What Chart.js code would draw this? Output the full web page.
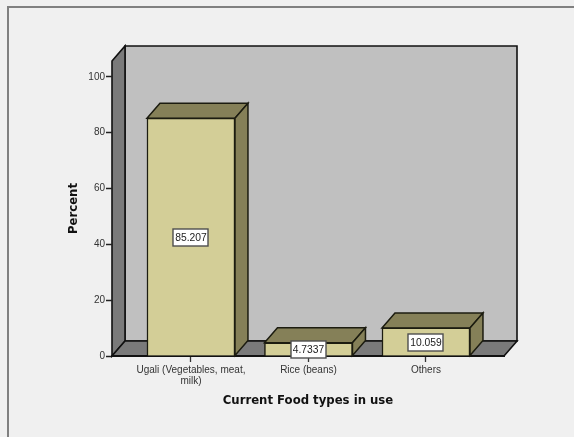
<!DOCTYPE html>
<html>
<head>
<meta charset="utf-8">
<style>
  html, body { margin: 0; padding: 0; background: #f0f0f0; }
  canvas { display: block; }
</style>
<script src="https://cdn.jsdelivr.net/npm/chart.js@4"></script>
</head>
<body>
<canvas id="chart" width="574" height="437"></canvas>
<script>
// Food types currently in use, share of respondents in percent
const categories = [["Ugali (Vegetables, meat,", "milk)"], "Rice (beans)", "Others"];
const percentValues = [85.207, 4.7337, 10.059];
const valueLabels = ["85.207", "4.7337", "10.059"];
const yTickValues = [0, 20, 40, 60, 80, 100];
const xPositions = [0, 1, 2];

const DEPTH_X = 13;
const DEPTH_Y = 15;

const poly = (ctx, pts, fill, stroke, lw) => {
  ctx.beginPath();
  pts.forEach((p, i) => i ? ctx.lineTo(p[0], p[1]) : ctx.moveTo(p[0], p[1]));
  ctx.closePath();
  ctx.fillStyle = fill;
  ctx.fill();
  ctx.lineJoin = 'miter';
  ctx.strokeStyle = stroke;
  ctx.lineWidth = lw;
  ctx.stroke();
};

// Back wall, side wall and floor of the 3D plot box
const boxPlugin = {
  id: 'plotBox',
  beforeDraw(chart) {
    const { ctx, chartArea: a } = chart;
    ctx.save();
    ctx.fillStyle = '#f0f0f0';
    ctx.fillRect(0, 0, chart.width, chart.height);
    // outer frame, open on the right and bottom sides
    ctx.fillStyle = '#808080';
    ctx.fillRect(7, 6, 567, 2);
    ctx.fillRect(7, 6, 2, 431);
    const dark = '#111111';
    poly(ctx, [[a.left + DEPTH_X, a.top - DEPTH_Y], [a.right + DEPTH_X, a.top - DEPTH_Y],
               [a.right + DEPTH_X, a.bottom - DEPTH_Y], [a.left + DEPTH_X, a.bottom - DEPTH_Y]], '#c0c0c0', dark, 1.6);
    poly(ctx, [[a.left, a.top], [a.left + DEPTH_X, a.top - DEPTH_Y],
               [a.left + DEPTH_X, a.bottom - DEPTH_Y], [a.left, a.bottom]], '#7a7a7a', dark, 1.6);
    poly(ctx, [[a.left, a.bottom], [a.right, a.bottom],
               [a.right + DEPTH_X, a.bottom - DEPTH_Y], [a.left + DEPTH_X, a.bottom - DEPTH_Y]], '#7a7a7a', dark, 1.6);
    ctx.restore();
  }
};

// Top and side faces of each bar
const barDepthPlugin = {
  id: 'barDepth',
  beforeDatasetsDraw(chart) {
    const { ctx } = chart;
    ctx.save();
    chart.getDatasetMeta(0).data.forEach(bar => {
      const l = bar.x - bar.width / 2, r = bar.x + bar.width / 2;
      const t = bar.y, b = bar.base;
      const line = '#1c1c10';
      poly(ctx, [[l, t], [l + DEPTH_X, t - DEPTH_Y], [r + DEPTH_X, t - DEPTH_Y], [r, t]], '#858058', line, 1.5);
      poly(ctx, [[r, t], [r + DEPTH_X, t - DEPTH_Y], [r + DEPTH_X, b - DEPTH_Y], [r, b]], '#858058', line, 1.5);
    });
    ctx.restore();
  }
};

// Boxed value label in the middle of each bar's front face
const valueBoxPlugin = {
  id: 'valueBox',
  afterDatasetsDraw(chart) {
    const { ctx } = chart;
    ctx.save();
    ctx.font = '10.3px "Liberation Sans", Arial, sans-serif';
    ctx.textAlign = 'center';
    ctx.textBaseline = 'middle';
    chart.getDatasetMeta(0).data.forEach((bar, i) => {
      const cx = bar.x, cy = Math.round((bar.y + bar.base) / 2);
      const x = Math.round(cx - 17.5), y = cy - 8, w = 35, h = 17;
      ctx.fillStyle = '#ffffff';
      ctx.fillRect(x, y, w, h);
      ctx.strokeStyle = '#4f4f4f';
      ctx.lineWidth = 1.4;
      ctx.strokeRect(x, y, w, h);
      ctx.fillStyle = '#222222';
      ctx.fillText(valueLabels[i], cx, cy + 1);
    });
    ctx.restore();
  }
};

const tickFont = { family: '"Liberation Sans", Arial, sans-serif', size: 10, lineHeight: 1.05 };
const titleFont = { family: '"DejaVu Sans", Verdana, sans-serif', size: 11.7, weight: 'bold' };

new Chart(document.getElementById('chart'), {
  type: 'bar',
  data: {
    datasets: [{
      data: xPositions.map((x, i) => ({ x, y: percentValues[i] })),
      backgroundColor: '#d3ce97',
      borderColor: '#1c1c10',
      borderWidth: 1.5,
      barThickness: 88
    }]
  },
  options: {
    responsive: false,
    animation: false,
    events: [],
    layout: { padding: { left: 0, right: 70, top: 61, bottom: 0 } },
    plugins: { legend: { display: false }, tooltip: { enabled: false }, title: { display: false } },
    scales: {
      x: {
        type: 'linear',
        offset: false,
        min: -0.672,
        max: 2.664,
        afterFit(scale) { scale.height = 81; },
        afterBuildTicks(scale) { scale.ticks = xPositions.map(value => ({ value })); },
        grid: { offset: false, drawOnChartArea: false, drawTicks: true, tickLength: 6, tickColor: '#333333', tickWidth: 1.3 },
        border: { display: true, color: '#111111', width: 2 },
        ticks: {
          autoSkip: false,
          maxRotation: 0,
          minRotation: 0,
          padding: 3,
          color: '#333333',
          font: tickFont,
          callback: value => categories[value]
        },
        title: {
          display: true,
          text: 'Current Food types in use',
          color: '#111111',
          font: titleFont,
          padding: { top: 0, bottom: 29 }
        }
      },
      y: {
        type: 'linear',
        min: 0,
        max: 105.7,
        afterFit(scale) { scale.width = 112; },
        afterBuildTicks(scale) { scale.ticks = yTickValues.map(value => ({ value })); },
        grid: { drawOnChartArea: false, drawTicks: true, tickLength: 6, tickColor: '#222222', tickWidth: 1.5 },
        border: { display: false },
        ticks: { padding: 1, color: '#333333', font: tickFont },
        title: {
          display: true,
          text: 'Percent',
          color: '#111111',
          font: titleFont,
          padding: { top: 67, bottom: 0 }
        }
      }
    }
  },
  plugins: [boxPlugin, barDepthPlugin, valueBoxPlugin]
});
</script>
</body>
</html>
